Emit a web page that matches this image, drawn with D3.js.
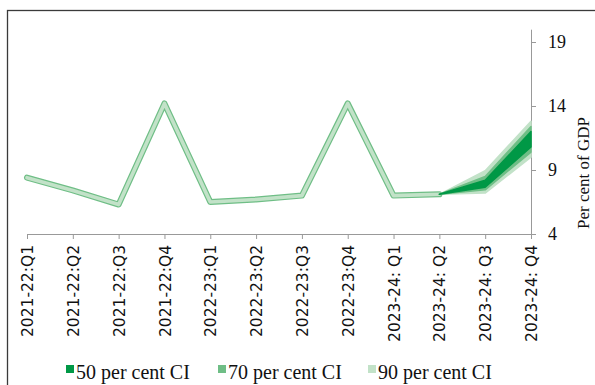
<!DOCTYPE html>
<html>
<head>
<meta charset="utf-8">
<script src="https://cdn.jsdelivr.net/npm/d3@7"></script>
<style>
  html, body { margin: 0; padding: 0; background: #fff; }
  svg { display: block; }
</style>
</head>
<body>
<svg id="chart" width="595" height="385"></svg>
<script>
// Quarterly categories
const quarters = [
  "2021-22:Q1", "2021-22:Q2", "2021-22:Q3", "2021-22:Q4",
  "2022-23:Q1", "2022-23:Q2", "2022-23:Q3", "2022-23:Q4",
  "2023-24: Q1", "2023-24: Q2", "2023-24: Q3", "2023-24: Q4"
];
// Outturn (per cent of GDP); forecast quarters use the central value
const central = [8.4, 7.4, 6.3, 14.2, 6.5, 6.7, 7.0, 14.2, 7.0, 7.1, 7.9, 11.4];
// Confidence bands for the forecast quarters (from 2023-24: Q2 onward)
const bandStart = 9;
const ci50Low  = [7.1, 7.65, 10.8];
const ci50High = [7.1, 8.2, 12.0];
const ci70Low  = [7.1, 7.45, 10.4];
const ci70High = [7.1, 8.5, 12.4];
const ci90Low  = [7.1, 7.2, 10.0];
const ci90High = [7.1, 8.95, 12.8];
const yTicks = [4, 9, 14, 19];
const legendLabels = ["50 per cent CI", "70 per cent CI", "90 per cent CI"];

const colDark = "#009846", colMid = "#6fbe86", colLight = "#c2e2c8";

const svg = d3.select("#chart");

// outer frame
svg.append("rect")
  .attr("x", 7.5).attr("y", 10.5).attr("width", 620).attr("height", 420)
  .attr("fill", "none").attr("stroke", "#3a3a3a").attr("stroke-width", 1.3);

const x = d3.scalePoint().domain(quarters).range([27, 531]);
const y = d3.scaleLinear().domain([4, 20]).range([234, 29.2]);

// x axis
const xAxis = svg.append("g").attr("transform", "translate(0,234)")
  .call(d3.axisBottom(x).tickSize(5).tickSizeOuter(0));
xAxis.select(".domain").attr("stroke", "#999");
xAxis.selectAll(".tick line").attr("stroke", "#999");
xAxis.selectAll(".tick text")
  .attr("font-family", "'DejaVu Sans', sans-serif")
  .attr("font-size", 15.5)
  .attr("fill", "#111")
  .attr("text-anchor", "end")
  .attr("transform", "rotate(-90)")
  .attr("x", -11).attr("y", 0).attr("dy", "0.36em");

// y axis on the right
const yAxis = svg.append("g").attr("transform", "translate(531,0)")
  .call(d3.axisRight(y).tickValues(yTicks).tickSize(5).tickSizeOuter(0).tickFormat(d3.format("d")));
yAxis.select(".domain").attr("stroke", "#999");
yAxis.selectAll(".tick line").attr("stroke", "#999");
yAxis.selectAll(".tick text")
  .attr("font-family", "'Liberation Serif', serif")
  .attr("font-size", 18)
  .attr("fill", "#111")
  .attr("x", 17);

svg.append("text")
  .attr("transform", "translate(589,173) rotate(-90)")
  .attr("text-anchor", "middle")
  .attr("font-family", "'Liberation Serif', serif")
  .attr("font-size", 17)
  .attr("fill", "#111")
  .text("Per cent of GDP");

// outturn line: mid-green edge with light-green core
const line = d3.line().x((d, i) => x(quarters[i])).y(d => y(d));
const hist = central.slice(0, bandStart + 1);
svg.append("path").attr("d", line(hist))
  .attr("fill", "none").attr("stroke", colMid).attr("stroke-width", 6)
  .attr("stroke-linejoin", "round").attr("stroke-linecap", "round");
svg.append("path").attr("d", line(hist))
  .attr("fill", "none").attr("stroke", colLight).attr("stroke-width", 3.6)
  .attr("stroke-linejoin", "round").attr("stroke-linecap", "round");

// fan of confidence bands
const bandQuarters = quarters.slice(bandStart);
const area = d3.area()
  .x(d => x(d.q)).y0(d => y(d.lo)).y1(d => y(d.hi));
function bandData(lo, hi) {
  return bandQuarters.map((q, i) => ({ q, lo: lo[i], hi: hi[i] }));
}
[[ci90Low, ci90High, colLight], [ci70Low, ci70High, colMid], [ci50Low, ci50High, colDark]]
  .forEach(([lo, hi, c]) => {
    svg.append("path").attr("d", area(bandData(lo, hi)))
      .attr("fill", c).attr("stroke", c).attr("stroke-width", 1.5)
      .attr("stroke-linejoin", "round");
  });

// legend
const legendX = [66, 218, 368];
const legendColors = [colDark, colMid, colLight];
legendLabels.forEach((t, i) => {
  svg.append("rect").attr("x", legendX[i]).attr("y", 365).attr("width", 8).attr("height", 8)
    .attr("fill", legendColors[i]);
  svg.append("text").attr("x", legendX[i] + 10).attr("y", 378.5)
    .attr("font-family", "'Liberation Serif', serif")
    .attr("font-size", 20).attr("fill", "#111").text(t);
});
</script>
</body>
</html>
